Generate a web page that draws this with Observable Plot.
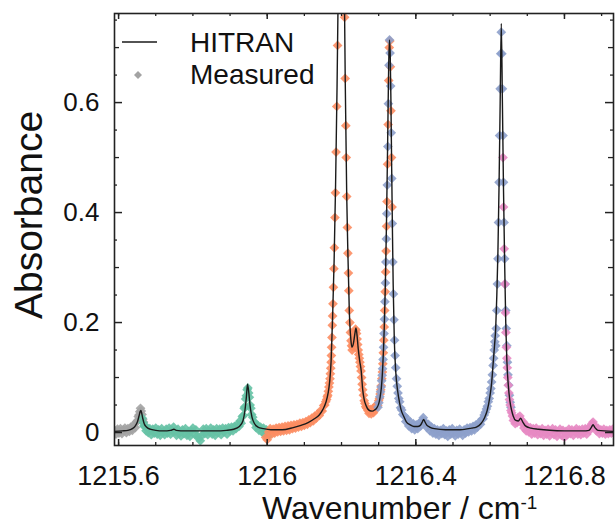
<!DOCTYPE html>
<html><head><meta charset="utf-8">
<script src="https://cdn.jsdelivr.net/npm/d3@7"></script>
<script src="https://cdn.jsdelivr.net/npm/@observablehq/plot@0.6"></script>
<style>
body{margin:0;background:#fff;}
#wrap{position:relative;width:616px;height:531px;font-family:"Liberation Sans",Arial,sans-serif;}
#wrap svg.over{position:absolute;left:0;top:0;pointer-events:none;}
</style></head><body><div id="wrap"></div>
<script>
// ---- tick values ----
const xTickLabels = [1215.6, 1216, 1216.4, 1216.8];
const xTickMinor = [1215.6, 1215.7, 1215.8, 1215.9, 1216, 1216.1, 1216.2, 1216.3, 1216.4, 1216.5, 1216.6, 1216.7, 1216.8, 1216.9];
const yTickLabels = [0, 0.2, 0.4, 0.6];
const yTickMid = [0.1, 0.3, 0.5, 0.7];
const yTickMinor = [0.05, 0.15, 0.25, 0.35, 0.45, 0.55, 0.65, 0.75];

// ---- HITRAN simulated spectrum [wavenumber, absorbance] ----
const hitran = [[1215.589,0.002],[1215.61,0.003],[1215.625,0.004],[1215.637,0.007],[1215.645,0.012],[1215.651,0.02],[1215.655,0.03],[1215.658,0.038],[1215.660,0.040],[1215.662,0.036],[1215.665,0.026],[1215.669,0.016],[1215.675,0.010],[1215.685,0.006],[1215.70,0.004],[1215.72,0.003],[1215.74,0.004],[1215.749,0.006],[1215.755,0.004],[1215.78,0.003],[1215.82,0.003],[1215.86,0.003],[1215.89,0.004],[1215.91,0.006],[1215.925,0.011],[1215.935,0.022],[1215.940,0.040],[1215.944,0.065],[1215.947,0.088],[1215.950,0.075],[1215.954,0.048],[1215.959,0.028],[1215.966,0.016],[1215.975,0.010],[1215.99,0.007],[1216.01,0.005],[1216.04,0.005],[1216.07,0.009],[1216.091,0.013],[1216.11,0.018],[1216.127,0.025],[1216.14,0.032],[1216.15,0.042],[1216.158,0.055],[1216.164,0.072],[1216.168,0.092],[1216.172,0.13],[1216.176,0.21],[1216.18,0.31],[1216.184,0.45],[1216.188,0.63],[1216.191,0.80],[1216.194,1.0],[1216.197,1.2],[1216.199,1.3],[1216.201,1.25],[1216.204,1.08],[1216.207,0.85],[1216.21,0.64],[1216.214,0.43],[1216.217,0.33],[1216.221,0.22],[1216.225,0.17],[1216.228,0.155],[1216.232,0.162],[1216.236,0.18],[1216.239,0.19],[1216.242,0.175],[1216.245,0.152],[1216.249,0.13],[1216.253,0.112],[1216.257,0.078],[1216.261,0.06],[1216.266,0.049],[1216.275,0.04],[1216.283,0.039],[1216.289,0.041],[1216.295,0.045],[1216.3,0.052],[1216.304,0.065],[1216.307,0.08],[1216.311,0.12],[1216.315,0.19],[1216.318,0.27],[1216.321,0.38],[1216.324,0.52],[1216.327,0.67],[1216.329,0.714],[1216.331,0.69],[1216.333,0.6],[1216.335,0.48],[1216.337,0.37],[1216.339,0.27],[1216.342,0.17],[1216.346,0.11],[1216.351,0.076],[1216.356,0.055],[1216.36,0.042],[1216.367,0.03],[1216.374,0.02],[1216.385,0.014],[1216.395,0.011],[1216.405,0.011],[1216.412,0.013],[1216.418,0.02],[1216.421,0.024],[1216.424,0.02],[1216.43,0.013],[1216.437,0.01],[1216.45,0.007],[1216.48,0.005],[1216.52,0.005],[1216.55,0.008],[1216.563,0.01],[1216.575,0.016],[1216.585,0.027],[1216.592,0.04],[1216.599,0.064],[1216.604,0.09],[1216.608,0.125],[1216.612,0.16],[1216.615,0.19],[1216.618,0.25],[1216.621,0.33],[1216.624,0.45],[1216.627,0.6],[1216.63,0.744],[1216.633,0.6],[1216.636,0.44],[1216.639,0.31],[1216.642,0.2],[1216.645,0.13],[1216.649,0.085],[1216.653,0.058],[1216.658,0.04],[1216.662,0.03],[1216.669,0.022],[1216.676,0.021],[1216.682,0.026],[1216.688,0.019],[1216.695,0.012],[1216.71,0.008],[1216.73,0.006],[1216.76,0.004],[1216.8,0.003],[1216.85,0.003],[1216.866,0.004],[1216.872,0.009],[1216.877,0.014],[1216.882,0.009],[1216.89,0.004],[1216.935,0.002]];

// ---- measured spectra, one array per scan window ----
const measuredGray = [[1215.589,0.004],[1215.593,-0.003],[1215.597,0.006],[1215.601,-0.001],[1215.605,0.007],[1215.609,-0.002],[1215.613,0.005],[1215.617,0.008],[1215.621,0.000],[1215.625,0.007],[1215.629,0.002],[1215.633,0.010],[1215.637,0.004],[1215.641,0.014],[1215.645,0.009],[1215.648,0.019],[1215.651,0.022],[1215.653,0.029],[1215.655,0.032],[1215.657,0.038],[1215.659,0.044],[1215.661,0.039],[1215.663,0.033],[1215.665,0.024],[1215.667,0.019]];

const measuredGreen = [[1215.664,0.026],[1215.666,0.018],[1215.668,0.012],[1215.671,0.011],[1215.674,0.003],[1215.677,0.009],[1215.680,0.000],[1215.684,0.007],[1215.688,-0.004],[1215.692,0.006],[1215.696,-0.001],[1215.700,0.008],[1215.704,-0.003],[1215.708,0.005],[1215.712,-0.005],[1215.716,0.007],[1215.720,0.001],[1215.724,-0.004],[1215.728,0.006],[1215.732,-0.001],[1215.736,0.008],[1215.740,-0.003],[1215.744,0.004],[1215.748,0.010],[1215.752,0.002],[1215.756,-0.005],[1215.760,0.006],[1215.764,-0.001],[1215.768,-0.006],[1215.772,0.005],[1215.776,-0.002],[1215.780,0.007],[1215.784,-0.005],[1215.788,0.002],[1215.792,-0.007],[1215.796,0.003],[1215.800,0.008],[1215.804,-0.003],[1215.808,0.005],[1215.812,-0.006],[1215.816,-0.011],[1215.820,-0.015],[1215.824,-0.005],[1215.828,0.006],[1215.832,-0.002],[1215.836,0.007],[1215.840,-0.004],[1215.844,0.002],[1215.848,0.008],[1215.852,-0.003],[1215.856,0.005],[1215.860,-0.005],[1215.864,0.007],[1215.868,0.000],[1215.872,0.006],[1215.876,-0.004],[1215.880,0.008],[1215.884,0.001],[1215.888,0.007],[1215.892,-0.003],[1215.896,0.009],[1215.900,0.003],[1215.904,0.010],[1215.908,0.003],[1215.912,0.011],[1215.916,0.007],[1215.920,0.015],[1215.924,0.011],[1215.927,0.021],[1215.930,0.017],[1215.933,0.029],[1215.936,0.031],[1215.938,0.044],[1215.940,0.047],[1215.942,0.061],[1215.944,0.067],[1215.946,0.078],[1215.948,0.081],[1215.950,0.072],[1215.952,0.064],[1215.954,0.050],[1215.956,0.044],[1215.958,0.033],[1215.961,0.028],[1215.964,0.019],[1215.967,0.018],[1215.970,0.009],[1215.974,0.013],[1215.978,0.004],[1215.982,0.010],[1215.986,0.001],[1215.990,0.008],[1215.994,-0.004],[1215.998,0.005],[1216.002,-0.007],[1216.006,0.003]];

const measuredOrange = [[1215.996,-0.009],[1216.000,-0.013],[1216.004,0.001],[1216.008,0.007],[1216.012,-0.003],[1216.016,0.006],[1216.020,-0.001],[1216.024,0.008],[1216.028,0.001],[1216.032,0.009],[1216.036,0.002],[1216.040,0.010],[1216.044,0.003],[1216.048,0.011],[1216.052,0.004],[1216.056,0.012],[1216.060,0.005],[1216.064,0.013],[1216.068,0.007],[1216.072,0.014],[1216.076,0.008],[1216.080,0.015],[1216.084,0.010],[1216.088,0.017],[1216.092,0.011],[1216.096,0.018],[1216.100,0.013],[1216.104,0.020],[1216.108,0.015],[1216.112,0.023],[1216.116,0.018],[1216.120,0.026],[1216.124,0.021],[1216.128,0.030],[1216.132,0.026],[1216.136,0.034],[1216.140,0.031],[1216.144,0.040],[1216.148,0.039],[1216.152,0.049],[1216.155,0.050],[1216.1575,0.056],[1216.1600,0.060],[1216.1615,0.065],[1216.1630,0.068],[1216.1645,0.075],[1216.1660,0.083],[1216.1675,0.090],[1216.1690,0.098],[1216.1700,0.107],[1216.1710,0.117],[1216.1720,0.128],[1216.1727,0.140],[1216.1733,0.155],[1216.1742,0.173],[1216.1752,0.195],[1216.1760,0.212],[1216.1770,0.234],[1216.1782,0.264],[1216.1795,0.298],[1216.1807,0.336],[1216.1823,0.391],[1216.1836,0.436],[1216.1853,0.510],[1216.1872,0.593],[1216.1893,0.704],[1216.1910,0.800],[1216.2068,0.880],[1216.2084,0.755],[1216.2099,0.644],[1216.2116,0.558],[1216.2127,0.500],[1216.2140,0.429],[1216.2157,0.373],[1216.2171,0.326],[1216.2185,0.290],[1216.2196,0.258],[1216.2209,0.222],[1216.2226,0.200],[1216.2240,0.182],[1216.2255,0.167],[1216.2270,0.158],[1216.2285,0.150],[1216.2300,0.156],[1216.2315,0.162],[1216.2330,0.170],[1216.2345,0.176],[1216.2360,0.183],[1216.2375,0.188],[1216.2390,0.186],[1216.2405,0.180],[1216.2420,0.170],[1216.2435,0.160],[1216.2450,0.150],[1216.2465,0.142],[1216.2480,0.135],[1216.2495,0.128],[1216.2510,0.120],[1216.2525,0.112],[1216.2540,0.100],[1216.2555,0.088],[1216.2570,0.078],[1216.2590,0.068],[1216.2610,0.058],[1216.2630,0.053],[1216.2650,0.047],[1216.2680,0.044],[1216.2710,0.040],[1216.2740,0.035],[1216.2770,0.042],[1216.2800,0.034],[1216.2830,0.043],[1216.2860,0.036],[1216.2890,0.046],[1216.2920,0.042],[1216.2950,0.051],[1216.2975,0.049],[1216.3000,0.058],[1216.3020,0.062],[1216.3040,0.070],[1216.3055,0.078],[1216.3070,0.085],[1216.3085,0.098],[1216.3100,0.110],[1216.3112,0.125],[1216.3125,0.145],[1216.3138,0.168],[1216.3150,0.192],[1216.3162,0.222],[1216.3175,0.256],[1216.3188,0.292],[1216.3200,0.330],[1216.3212,0.375],[1216.3225,0.420],[1216.3240,0.488],[1216.3255,0.560],[1216.3270,0.640],[1216.3285,0.700],[1216.3300,0.712],[1216.3315,0.665],[1216.3330,0.585],[1216.3345,0.500],[1216.3360,0.410]];

const measuredBlue = [[1216.2980,0.046],[1216.3005,0.054],[1216.3030,0.065],[1216.3050,0.074],[1216.3065,0.083],[1216.3080,0.094],[1216.3093,0.104],[1216.3105,0.116],[1216.3118,0.133],[1216.3131,0.155],[1216.3144,0.180],[1216.3156,0.206],[1216.3168,0.238],[1216.3181,0.272],[1216.3194,0.310],[1216.3206,0.352],[1216.3219,0.398],[1216.3232,0.450],[1216.3247,0.520],[1216.3262,0.598],[1216.3277,0.668],[1216.3292,0.714],[1216.3307,0.690],[1216.3322,0.630],[1216.3337,0.545],[1216.3352,0.462],[1216.3367,0.380],[1216.3382,0.310],[1216.3397,0.252],[1216.3412,0.205],[1216.3427,0.168],[1216.3442,0.140],[1216.3460,0.118],[1216.3480,0.098],[1216.3500,0.084],[1216.3520,0.072],[1216.3540,0.062],[1216.3565,0.056],[1216.3590,0.045],[1216.3620,0.041],[1216.3650,0.033],[1216.3690,0.030],[1216.3730,0.020],[1216.3770,0.025],[1216.3810,0.012],[1216.3850,0.019],[1216.3890,0.007],[1216.3930,0.016],[1216.3970,0.005],[1216.4010,0.014],[1216.4050,0.007],[1216.4090,0.017],[1216.4130,0.012],[1216.4170,0.022],[1216.4200,0.027],[1216.4230,0.020],[1216.4260,0.018],[1216.4300,0.009],[1216.4340,0.015],[1216.4380,0.003],[1216.4420,0.010],[1216.4460,-0.001],[1216.4500,0.007],[1216.4540,-0.003],[1216.4580,0.005],[1216.4620,-0.005],[1216.4660,0.004],[1216.4700,-0.002],[1216.4740,0.007],[1216.4780,-0.004],[1216.4820,0.003],[1216.4860,-0.007],[1216.4900,0.005],[1216.4940,-0.003],[1216.4980,0.007],[1216.5020,-0.001],[1216.5060,-0.006],[1216.5100,0.004],[1216.5140,-0.003],[1216.5180,0.006],[1216.5220,0.000],[1216.5260,-0.005],[1216.5300,0.005],[1216.5340,-0.001],[1216.5380,0.008],[1216.5420,0.001],[1216.5460,0.009],[1216.5500,0.003],[1216.5540,0.011],[1216.5580,0.005],[1216.5620,0.014],[1216.5660,0.010],[1216.5700,0.018],[1216.5740,0.015],[1216.5780,0.024],[1216.5810,0.025],[1216.5840,0.032],[1216.5870,0.037],[1216.5900,0.043],[1216.5925,0.048],[1216.5950,0.056],[1216.5975,0.062],[1216.6000,0.072],[1216.6020,0.080],[1216.6040,0.092],[1216.6060,0.105],[1216.6080,0.122],[1216.6095,0.135],[1216.6110,0.150],[1216.6125,0.165],[1216.6137,0.176],[1216.6150,0.158],[1216.6165,0.189],[1216.6180,0.222],[1216.6195,0.270],[1216.6210,0.316],[1216.6225,0.382],[1216.6240,0.455],[1216.6255,0.540],[1216.6270,0.625],[1216.6285,0.689],[1216.6300,0.728],[1216.6315,0.689],[1216.6330,0.625],[1216.6345,0.540],[1216.6360,0.455],[1216.6375,0.382],[1216.6390,0.316],[1216.6405,0.270],[1216.6420,0.222],[1216.6435,0.189],[1216.6450,0.158],[1216.6465,0.128],[1216.6480,0.105],[1216.6500,0.086],[1216.6520,0.068],[1216.6540,0.055],[1216.6560,0.046]];

const measuredPink = [[1216.6345,0.500],[1216.6360,0.410],[1216.6378,0.334],[1216.6395,0.270],[1216.6410,0.218],[1216.6423,0.182],[1216.6436,0.155],[1216.6450,0.135],[1216.6462,0.118],[1216.6475,0.100],[1216.6490,0.086],[1216.6505,0.072],[1216.6520,0.060],[1216.6540,0.050],[1216.6560,0.040],[1216.6580,0.036],[1216.6600,0.030],[1216.6625,0.022],[1216.6650,0.026],[1216.6675,0.016],[1216.6700,0.024],[1216.6725,0.018],[1216.6750,0.027],[1216.6775,0.022],[1216.6800,0.030],[1216.6825,0.024],[1216.6850,0.017],[1216.6880,0.020],[1216.6910,0.008],[1216.6940,0.014],[1216.6970,0.003],[1216.7000,0.011],[1216.7040,0.001],[1216.7080,0.009],[1216.7120,-0.003],[1216.7160,0.007],[1216.7200,-0.001],[1216.7240,0.008],[1216.7280,-0.004],[1216.7320,0.005],[1216.7360,-0.002],[1216.7400,0.007],[1216.7440,-0.005],[1216.7480,0.004],[1216.7520,-0.003],[1216.7560,0.006],[1216.7600,-0.006],[1216.7640,0.002],[1216.7680,0.007],[1216.7720,-0.004],[1216.7760,0.005],[1216.7800,-0.007],[1216.7840,0.001],[1216.7880,0.006],[1216.7920,-0.005],[1216.7960,0.004],[1216.8000,-0.009],[1216.8040,0.002],[1216.8080,-0.004],[1216.8120,0.006],[1216.8160,-0.002],[1216.8200,0.005],[1216.8240,-0.005],[1216.8280,0.003],[1216.8320,0.007],[1216.8360,-0.003],[1216.8400,0.005],[1216.8440,-0.004],[1216.8480,0.006],[1216.8520,-0.001],[1216.8560,0.007],[1216.8600,-0.003],[1216.8640,0.008],[1216.8680,0.004],[1216.8710,0.011],[1216.8740,0.016],[1216.8770,0.019],[1216.8800,0.013],[1216.8830,0.010],[1216.8860,0.003],[1216.8900,0.008],[1216.8940,-0.002],[1216.8980,0.005],[1216.9020,-0.001],[1216.9060,0.006],[1216.9100,-0.003],[1216.9140,0.004],[1216.9180,-0.002],[1216.9220,0.005],[1216.9260,-0.001],[1216.9300,0.006],[1216.9340,0.001]];

const seriesColors = {gray: "#a3a3a3", green: "#66c2a5", orange: "#fc8d62", blue: "#8da0cb", pink: "#e78ac3"};
const legendLabels = ["HITRAN", "Measured"];
const xTitle = "Wavenumber / cm";
const yTitle = "Absorbance";

// ---- layout ----
const W = 616, H = 531;
const mL = 114, mR = 3, mT = 13, mB = 86;
const fw = W - mL - mR, fh = H - mT - mB;

const dots = (data, color) => Plot.dot(data, {x: d => d[0], y: d => d[1], symbol: "diamond2", r: 4.4, fill: color, fillOpacity: 0.9, clip: true});

const chart = Plot.plot({
  width: W, height: H,
  marginLeft: mL, marginRight: mR, marginTop: mT, marginBottom: mB,
  x: {domain: [1215.589, 1216.932]},
  y: {domain: [-0.0236, 0.762]},
  style: {fontFamily: '"Liberation Sans", Arial, sans-serif', color: "#111", background: "#fff"},
  marks: [
    dots(measuredGray, seriesColors.gray),
    dots(measuredGreen, seriesColors.green),
    dots(measuredOrange, seriesColors.orange),
    dots(measuredBlue, seriesColors.blue),
    dots(measuredPink, seriesColors.pink),
    Plot.line(hitran, {x: d => d[0], y: d => d[1], stroke: "#1a1a1a", strokeWidth: 1.4, curve: "monotone-x", clip: true}),
    // inward ticks on all four sides
    Plot.tickX(xTickMinor, {x: d => d, insetTop: fh - 3, stroke: "#222", strokeWidth: 1.3}),
    Plot.tickX(xTickLabels, {x: d => d, insetTop: fh - 6, stroke: "#222", strokeWidth: 1.5}),
    Plot.tickX(xTickMinor, {x: d => d, insetBottom: fh - 3, stroke: "#222", strokeWidth: 1.3}),
    Plot.tickX(xTickLabels, {x: d => d, insetBottom: fh - 6, stroke: "#222", strokeWidth: 1.5}),
    Plot.tickY(yTickMinor, {y: d => d, insetRight: fw - 3, stroke: "#222", strokeWidth: 1.3}),
    Plot.tickY(yTickMid, {y: d => d, insetRight: fw - 5, stroke: "#222", strokeWidth: 1.3}),
    Plot.tickY(yTickLabels, {y: d => d, insetRight: fw - 8, stroke: "#222", strokeWidth: 1.5}),
    Plot.tickY(yTickMinor, {y: d => d, insetLeft: fw - 3, stroke: "#222", strokeWidth: 1.3}),
    Plot.tickY(yTickMid, {y: d => d, insetLeft: fw - 5, stroke: "#222", strokeWidth: 1.3}),
    Plot.tickY(yTickLabels, {y: d => d, insetLeft: fw - 8, stroke: "#222", strokeWidth: 1.5}),
    Plot.frame({stroke: "#222", strokeWidth: 1.6}),
    Plot.axisX(xTickLabels, {tickSize: 0, tickPadding: 20, fontSize: 27, tickFormat: d => String(d), label: null}),
    Plot.axisY(yTickLabels, {tickSize: 0, tickPadding: 15, fontSize: 26, tickFormat: d => String(d), label: null})
  ]
});

const wrap = document.getElementById("wrap");
wrap.appendChild(chart);

// overlay: axis titles and legend (real text)
const ns = "http://www.w3.org/2000/svg";
const over = document.createElementNS(ns, "svg");
over.setAttribute("class", "over");
over.setAttribute("width", W); over.setAttribute("height", H);
over.innerHTML = `
  <g font-family='"Liberation Sans", Arial, sans-serif' fill="#111">
    <text transform="translate(42,215) rotate(-90)" text-anchor="middle" font-size="39">${yTitle}</text>
    <text x="262" y="519" font-size="32">${xTitle}<tspan font-size="19" dy="-10">-1</tspan></text>
    <line x1="122" x2="157" y1="42" y2="42" stroke="#1a1a1a" stroke-width="1.4"/>
    <path d="M138,71 L142,75 L138,79 L134,75 Z" fill="#a3a3a3"/>
    <text x="190" y="52" font-size="28">${legendLabels[0]}</text>
    <text x="190" y="84" font-size="28">${legendLabels[1]}</text>
  </g>`;
wrap.appendChild(over);
</script>
</body></html>
